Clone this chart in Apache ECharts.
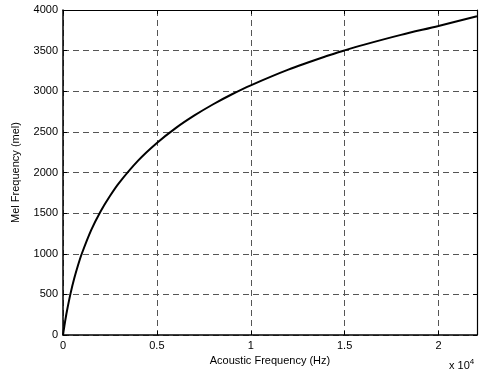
<!DOCTYPE html>
<html><head><meta charset="utf-8">
<script src="https://cdn.jsdelivr.net/npm/echarts@6/dist/echarts.min.js"></script>
<style>html,body{margin:0;padding:0;background:#fff}#c{width:482px;height:375px}</style>
</head><body><div id="c"></div>
<script>
var freqHz = [0, 50, 100, 200, 400, 600, 800, 1000, 1500, 2000, 2500, 3000, 4000, 5000, 6000, 7000, 8000, 9000, 10000, 12000, 14000, 15000, 16000, 18000, 20000, 22050];
var melValues = [0, 77, 150, 283, 509, 697, 858, 1000, 1291, 1521, 1711, 1876, 2146, 2363, 2546, 2702, 2840, 2963, 3073, 3266, 3430, 3503, 3571, 3694, 3804, 3923];
var xTickLabels = ['0', '0.5', '1', '1.5', '2'];
var yTickLabels = ['0','500','1000','1500','2000','2500','3000','3500','4000'];

var data = freqHz.map(function(f, i){ return [f, melValues[i]]; });
var font = 'Liberation Sans, Arial, sans-serif';
var chart = echarts.init(document.getElementById('c'));
var splitStyle = {show:true, lineStyle:{color:'#555', type:[6,4], width:1}};
chart.setOption({
  animation:false,
  grid:{left:63, right:5, top:10, bottom:40},
  xAxis:[{
    type:'value', min:0, max:22050, interval:5000,
    name:'Acoustic Frequency (Hz)', nameLocation:'middle', nameGap:16,
    nameTextStyle:{color:'#000', fontSize:11, fontFamily:font},
    axisLine:{onZero:false, lineStyle:{color:'#000', width:1.5}},
    axisTick:{inside:true, length:4, lineStyle:{color:'#000'}},
    axisLabel:{color:'#000', fontSize:11, fontFamily:font, margin:5,
      formatter:function(v){ var k=v/5000; return (Math.abs(k-Math.round(k))<1e-9 && xTickLabels[Math.round(k)]) ? xTickLabels[Math.round(k)] : ''; }},
    splitLine:splitStyle
  },{
    type:'value', min:0, max:22050, interval:5000, position:'top', z:10,
    axisLine:{show:true, onZero:false, lineStyle:{color:'#000', width:1.2}},
    axisTick:{inside:true, length:4, lineStyle:{color:'#000'}},
    axisLabel:{show:false}, splitLine:{show:false}
  }],
  yAxis:[{
    type:'value', min:0, max:4000, interval:500,
    name:'Mel Frequency (mel)', nameLocation:'middle', nameGap:42, nameRotate:90,
    nameTextStyle:{color:'#000', fontSize:11, fontFamily:font},
    axisLine:{show:true, onZero:false, lineStyle:{color:'#000', width:1.5}},
    axisTick:{show:true, inside:true, length:4, lineStyle:{color:'#000'}},
    axisLabel:{color:'#000', fontSize:11, fontFamily:font, margin:5,
      formatter:function(v){ return yTickLabels[Math.round(v/500)]; }},
    splitLine:splitStyle
  },{
    type:'value', min:0, max:4000, interval:500, position:'right', z:10,
    axisLine:{show:true, onZero:false, lineStyle:{color:'#000', width:1.2}},
    axisTick:{show:true, inside:true, length:4, lineStyle:{color:'#000'}},
    axisLabel:{show:false}, splitLine:{show:false}
  }],
  series:[{
    type:'line', data:data, smooth:0.3, showSymbol:false, symbol:'none',
    lineStyle:{color:'#000', width:2}, xAxisIndex:0, yAxisIndex:0
  }],
  graphic:[{
    type:'text', left:449, top:358,
    style:{text:'{a|x 10}{b|4}', rich:{a:{fontSize:11, fontFamily:font, fill:'#000'}, b:{fontSize:8, fontFamily:font, fill:'#000', verticalAlign:'top', padding:[0,0,8,0]}}}
  }]
});
</script></body></html>
